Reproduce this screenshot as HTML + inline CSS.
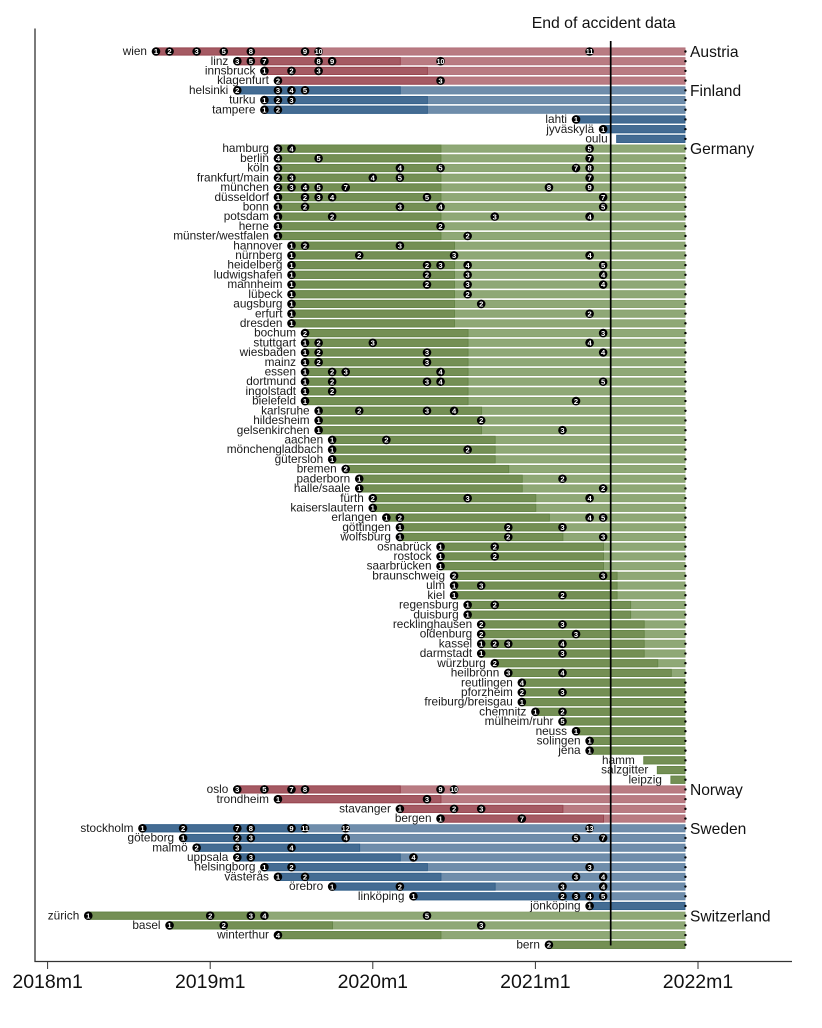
<!DOCTYPE html>
<html lang="en">
<head>
<meta charset="utf-8">
<title>City rollout timeline by country</title>
<style>
html,body{margin:0;padding:0;background:#fff;}
body{width:822px;height:1028px;overflow:hidden;}
svg{display:block;font-family:"Liberation Sans",Arial,sans-serif;}
</style>
</head>
<body>
<svg id="chart" xmlns="http://www.w3.org/2000/svg" width="822" height="1028" viewBox="0 0 822 1028">
  <rect x="0" y="0" width="822" height="1028" fill="#ffffff"/>
  <g id="bars"></g>
  <g id="labels"></g>
  <g id="markers"></g>
  <g id="countries"></g>
  <g id="axis"></g>
  <line x1="35" y1="28.5" x2="35" y2="961.5" stroke="#333" stroke-width="1.3"/>
  <line x1="34.4" y1="961.5" x2="792" y2="961.5" stroke="#333" stroke-width="1.3"/>
  <line x1="610.7" y1="41" x2="610.7" y2="945.5" stroke="#000" stroke-width="1.7"/>
  <text x="531.7" y="27.8" font-size="15.8" fill="#111">End of accident data</text>
</svg>
<script>
const tickLabels = ["2018m1", "2019m1", "2020m1", "2021m1", "2022m1"];
const tickMonths = [0, 12, 24, 36, 48];
const lastMonth = 47;

const countryNames = ["Austria", "Finland", "Germany", "Norway", "Sweden", "Switzerland"];
const countryRowCounts = [4, 6, 66, 4, 9, 4];

const cityNames = [
  "wien","linz","innsbruck","klagenfurt",
  "helsinki","turku","tampere","lahti","jyväskylä","oulu",
  "hamburg","berlin","köln","frankfurt/main","münchen","düsseldorf","bonn","potsdam","herne","münster/westfalen",
  "hannover","nürnberg","heidelberg","ludwigshafen","mannheim","lübeck","augsburg","erfurt","dresden",
  "bochum","stuttgart","wiesbaden","mainz","essen","dortmund","ingolstadt","bielefeld",
  "karlsruhe","hildesheim","gelsenkirchen","aachen","mönchengladbach","gütersloh","bremen","paderborn","halle/saale",
  "fürth","kaiserslautern","erlangen","göttingen","wolfsburg","osnabrück","rostock","saarbrücken",
  "braunschweig","ulm","kiel","regensburg","duisburg","recklinghausen","oldenburg","kassel","darmstadt",
  "würzburg","heilbronn","reutlingen","pforzheim","freiburg/breisgau","chemnitz","mülheim/ruhr","neuss","solingen","jena",
  "hamm","salzgitter","leipzig",
  "oslo","trondheim","stavanger","bergen",
  "stockholm","göteborg","malmö","uppsala","helsingborg","västerås","örebro","linköping","jönköping",
  "zürich","basel","winterthur","bern"
];

const startMonths = [
  8,14,16,17,
  14,16,16,39,41,42,
  17,17,17,17,17,17,17,17,17,17,
  18,18,18,18,18,18,18,18,18,
  19,19,19,19,19,19,19,19,
  20,20,20,21,21,21,22,23,23,
  24,24,25,26,26,29,29,29,
  30,30,30,31,31,32,32,32,32,
  33,34,35,35,35,36,38,39,40,40,
  44,45,46,
  14,17,26,29,
  7,10,11,14,16,17,21,27,40,
  3,9,17,37
];

const controlEndMonths = [
  20,26,28,29,
  26,28,28,47,47,47,
  29,29,29,29,29,29,29,29,29,29,
  30,30,30,30,30,30,30,30,30,
  31,31,31,31,31,31,31,31,
  32,32,32,33,33,33,34,35,35,
  36,36,37,38,38,41,41,41,
  42,42,42,43,43,44,44,44,44,
  45,46,47,47,47,47,47,47,47,47,
  47,47,47,
  26,29,38,41,
  19,22,23,26,28,29,33,41,47,
  16,21,29,47
];

const eventNumbers = [
  [1,2,3,5,8,9,10,11],[3,5,7,8,9,10],[1,2,3],[2,3],
  [2,3,4,5],[1,2,3],[1,2],[1],[1],[],
  [3,4,5],[4,5,7],[3,4,5,7,8],[2,3,4,5,7],[2,3,4,5,7,8,9],[1,2,3,4,5,7],[1,2,3,4,5],[1,2,3,4],[1,2],[1,2],
  [1,2,3],[1,2,3,4],[1,2,3,4,5],[1,2,3,4],[1,2,3,4],[1,2],[1,2],[1,2],[1],
  [2,3],[1,2,3,4],[1,2,3,4],[1,2,3],[1,2,3,4],[1,2,3,4,5],[1,2],[1,2],
  [1,2,3,4],[1,2],[1,3],[1,2],[1,2],[1],[2],[1,2],[1,2],
  [2,3,4],[1],[1,2,4,5],[1,2,3],[1,2,3],[1,2],[1,2],[1],
  [2,3],[1,3],[1,2],[1,2],[1],[2,3],[2,3],[1,2,3,4],[1,3],
  [2],[3,4],[4],[2,3],[1],[1,2],[5],[1],[1],[1],
  [],[],[],
  [3,5,7,8,9,10],[1,3],[1,2,3],[1,7],
  [1,2,7,8,9,11,12,13],[1,2,3,4,5,7],[2,3,4],[2,3,4],[1,2,3],[1,2,3,4],[1,2,3,4],[1,2,3,4,5],[1],
  [1,2,3,4,5],[1,2,3],[4],[2]
];

const eventMonths = [
  [8,9,11,13,15,19,20,40],[14,15,16,20,21,29],[16,18,20],[17,29],
  [14,17,18,19],[16,17,18],[16,17],[39],[41],[],
  [17,18,40],[17,20,40],[17,26,29,39,40],[17,18,24,26,40],[17,18,19,20,22,37,40],[17,19,20,21,28,41],[17,19,26,29,41],[17,21,33,40],[17,29],[17,31],
  [18,19,26],[18,23,30,40],[18,28,29,31,41],[18,28,31,41],[18,28,31,41],[18,31],[18,32],[18,40],[18],
  [19,41],[19,20,24,40],[19,20,28,41],[19,20,28],[19,21,22,29],[19,21,28,29,41],[19,21],[19,39],
  [20,23,28,30],[20,32],[20,38],[21,25],[21,31],[21],[22],[23,38],[23,41],
  [24,31,40],[24],[25,26,40,41],[26,34,38],[26,34,41],[29,33],[29,33],[29],
  [30,41],[30,32],[30,38],[31,33],[31],[32,38],[32,39],[32,33,34,38],[32,38],
  [33],[34,38],[35],[35,38],[35],[36,38],[38],[39],[40],[40],
  [],[],[],
  [14,16,18,19,29,30],[17,28],[26,30,32],[29,35],
  [7,10,14,15,18,19,22,40],[10,14,15,22,39,41],[11,14,18],[14,15,27],[16,18,40],[17,19,39,41],[21,26,38,41],[27,38,39,40,41],[40],
  [3,12,15,16,28],[9,13,32],[17],[37]
];

const lightFill = ["#b97b82", "#6f8dab", "#8fa876", "#b97b82", "#6f8dab", "#8fa876"];
const lightEdge = ["#b0707a", "#6586a5", "#87a16c", "#b0707a", "#6586a5", "#87a16c"];
const darkFill = ["#a55a63", "#446c93", "#748f54", "#a55a63", "#446c93", "#748f54"];
const darkEdge = ["#95434d", "#33608a", "#648446", "#95434d", "#33608a", "#648446"];

const SVG_NS = "http://www.w3.org/2000/svg";
function x(month) { return 47.6 + month * 13.55; }
function y(row) { return 51.5 + row * 9.71; }
function make(tag, attrs) {
  const el = document.createElementNS(SVG_NS, tag);
  for (const k in attrs) el.setAttribute(k, attrs[k]);
  return el;
}
function slug(s) {
  return s.normalize("NFD").replace(/[\u0300-\u036f]/g, "").replace(/\//g, "-");
}

const barsG = document.getElementById("bars");
const labelsG = document.getElementById("labels");
const markersG = document.getElementById("markers");
const countriesG = document.getElementById("countries");
const axisG = document.getElementById("axis");

let row = 0;
countryNames.forEach(function (country, c) {
  const label = make("text", { x: 690, y: y(row) + 5.6, "font-size": 15.6, fill: "#111" });
  
  
  label.textContent = country;
  countriesG.appendChild(label);

  for (let i = 0; i < countryRowCounts[c]; i++, row++) {
    const cy = y(row);
    const x0 = x(startMonths[row]);
    const xEnd = x(lastMonth) + 0.6;
    const xDark = Math.min(x(controlEndMonths[row]) + 0.4, xEnd);
    const key = slug(cityNames[row]);

    const light = make("rect", { x: x0, y: cy - 3.6, width: xEnd - x0, height: 7.2,
      fill: lightFill[c], stroke: lightEdge[c], "stroke-width": 0.9 });
    
    
    barsG.appendChild(light);

    const dark = make("rect", { x: x0, y: cy - 3.6, width: xDark - x0, height: 7.2,
      fill: darkFill[c], stroke: darkEdge[c], "stroke-width": 0.9 });
    
    
    barsG.appendChild(dark);

    const endDot = make("circle", { cx: xEnd + 0.4, cy: cy, r: 1.2, fill: "#000" });
    
    
    barsG.appendChild(endDot);

    const cityLabel = make("text", { x: x0 - 9, y: cy + 3.6, "font-size": 11.8, "text-anchor": "end", fill: "#1a1a1a" });
    
    
    cityLabel.textContent = cityNames[row];
    labelsG.appendChild(cityLabel);

    eventMonths[row].forEach(function (month, e) {
      const dot = make("circle", { cx: x(month), cy: cy, r: 4.3, fill: "#000" });
      
      
      markersG.appendChild(dot);

      const num = make("text", { x: x(month), y: cy + 2.7, "font-size": eventNumbers[row][e] > 9 ? 7 : 7.6,
        "font-weight": "bold", "text-anchor": "middle", fill: "#fff" });
      
      
      num.textContent = eventNumbers[row][e];
      markersG.appendChild(num);
    });
  }
});

tickLabels.forEach(function (label, i) {
  const tx = x(tickMonths[i]);
  const tick = make("line", { x1: tx, y1: 961.5, x2: tx, y2: 969, stroke: "#333", "stroke-width": 1 });
  
  
  axisG.appendChild(tick);

  const text = make("text", { x: tx, y: 988, "font-size": 19.5, "text-anchor": "middle", fill: "#111" });
  
  
  text.textContent = label;
  axisG.appendChild(text);
});
</script>
</body>
</html>
